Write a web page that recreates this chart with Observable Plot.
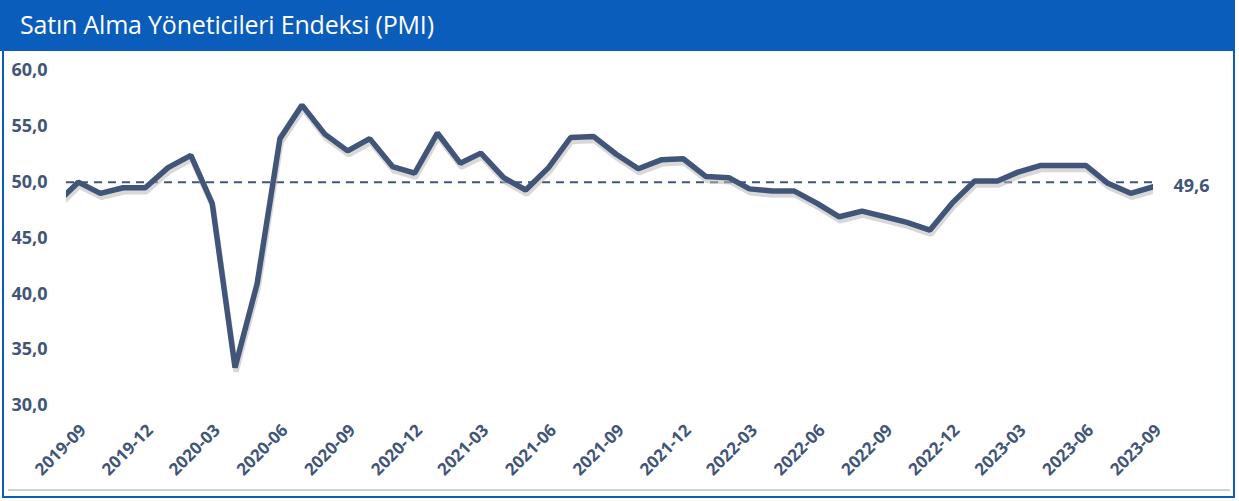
<!DOCTYPE html>
<html>
<head>
<meta charset="utf-8">
<script src="https://cdn.jsdelivr.net/npm/d3@7"></script>
<script src="https://cdn.jsdelivr.net/npm/@observablehq/plot@0.6"></script>
<style>
  body { margin: 0; background: #fff; }
  #wrap { position: relative; width: 1239px; height: 501px; background: #fff; overflow: hidden; font-family: "Open Sans", sans-serif; }
  #frame { position: absolute; left: 2px; top: 0; width: 1229px; height: 496px; border: 2px solid #0A5DBA; border-top: none; }
  #title { position: absolute; left: 0; top: 0; width: 1235px; height: 51px; background: #0A5DBA; color: #fff;
           font: 25px "Open Sans", sans-serif; line-height: 48px; padding-left: 20px; box-sizing: border-box; letter-spacing: -0.2px; }
  #chart { position: absolute; left: 0; top: 52px; }
  #baseline { position: absolute; left: 8px; top: 489px; width: 1222px; height: 2px; background: #cfcfcf; }
</style>
</head>
<body>
<div id="wrap">
  <div id="frame"></div>
  <div id="title">Satın Alma Yöneticileri Endeksi (PMI)</div>
  <div id="chart"></div>
  <div id="baseline"></div>
</div>
<script>
const months = [
  "2019-08","2019-09","2019-10","2019-11","2019-12",
  "2020-01","2020-02","2020-03","2020-04","2020-05","2020-06","2020-07","2020-08","2020-09","2020-10","2020-11","2020-12",
  "2021-01","2021-02","2021-03","2021-04","2021-05","2021-06","2021-07","2021-08","2021-09","2021-10","2021-11","2021-12",
  "2022-01","2022-02","2022-03","2022-04","2022-05","2022-06","2022-07","2022-08","2022-09","2022-10","2022-11","2022-12",
  "2023-01","2023-02","2023-03","2023-04","2023-05","2023-06","2023-07","2023-08","2023-09"
];
const pmi = [
  48.0, 50.0, 49.0, 49.5, 49.5,
  51.3, 52.4, 48.1, 33.4, 40.9, 53.9, 56.9, 54.3, 52.8, 53.9, 51.4, 50.8,
  54.4, 51.7, 52.6, 50.4, 49.3, 51.3, 54.0, 54.1, 52.5, 51.2, 52.0, 52.1,
  50.5, 50.4, 49.4, 49.2, 49.2, 48.1, 46.9, 47.4, 46.9, 46.4, 45.7, 48.1,
  50.1, 50.1, 50.9, 51.5, 51.5, 51.5, 49.9, 49.0, 49.6
];
const xTicks = ["2019-09","2019-12","2020-03","2020-06","2020-09","2020-12","2021-03","2021-06","2021-09",
                "2021-12","2022-03","2022-06","2022-09","2022-12","2023-03","2023-06","2023-09"];
const yTicks = [30, 35, 40, 45, 50, 55, 60];
const threshold = 50;

const parse = d3.utcParse("%Y-%m");
const data = months.map((m, i) => ({date: parse(m), value: pmi[i]}));
const last = data[data.length - 1];
const domainStart = new Date(Date.UTC(2019, 7, 16));

const ink = "#415579";
const fmt = v => v.toFixed(1).replace(".", ",");

const chart = Plot.plot({
  width: 1239,
  height: 449,
  marginLeft: 66,
  marginRight: 86,
  marginTop: 18,
  marginBottom: 96,
  style: {fontFamily: "'Open Sans', sans-serif", fontSize: "18px", fontWeight: "bold", color: ink, background: "transparent"},
  x: {type: "utc", domain: [domainStart, last.date]},
  y: {domain: [30, 60]},
  marks: [
    Plot.axisY({ticks: yTicks, tickFormat: fmt, tickSize: 0, tickPadding: 19, label: null, fontSize: 18}),
    Plot.axisX({ticks: xTicks.map(parse), tickFormat: d3.utcFormat("%Y-%m"), tickRotate: -45, tickSize: 0, tickPadding: 22, dx: 5, label: null, fontSize: 17}),
    Plot.ruleY([threshold], {x1: domainStart, x2: last.date, stroke: ink, strokeWidth: 2, strokeDasharray: "8,6"}),
    Plot.line(data, {x: "date", y: "value", stroke: "#b8b8b8", strokeWidth: 5.5, strokeOpacity: 0.55, dx: 1, dy: 4, clip: true, strokeLinejoin: "miter"}),
    Plot.line(data, {x: "date", y: "value", stroke: ink, strokeWidth: 5.5, clip: true, strokeLinejoin: "miter"}),
    Plot.text([last], {x: "date", y: "value", text: d => fmt(d.value), dx: 20, textAnchor: "start", fill: ink, fontSize: 18, fontWeight: "bold"})
  ]
});
document.getElementById("chart").appendChild(chart);
</script>
</body>
</html>
